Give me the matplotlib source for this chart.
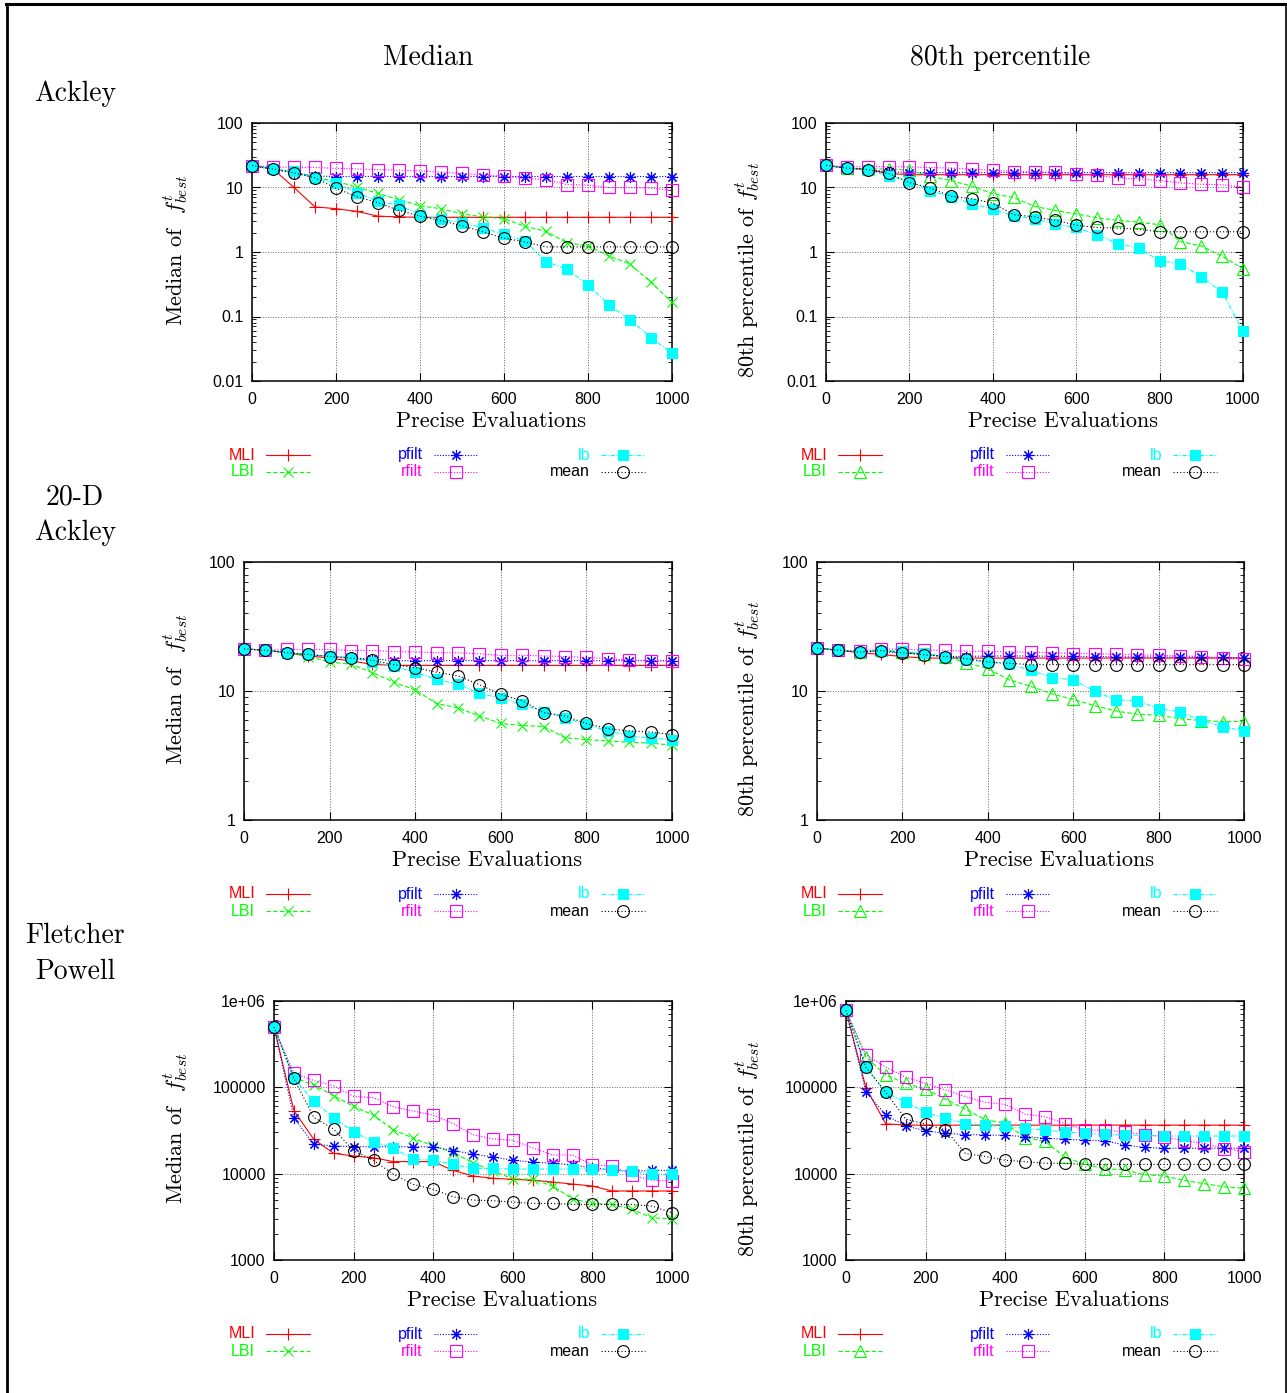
import matplotlib
matplotlib.use("Agg")
import matplotlib.pyplot as plt
from matplotlib.lines import Line2D
from matplotlib.ticker import LogLocator, NullFormatter

# evaluation counts (x axis)
evals = [0, 50, 100, 150, 200, 250, 300, 350, 400, 450, 500,
         550, 600, 650, 700, 750, 800, 850, 900, 950, 1000]

# Ackley, median
ack_med_mli = [21.9, 19.4, 10.0, 5.0, 4.7, 4.25, 3.6, 3.5, 3.45, 3.45, 3.45,
               3.45, 3.45, 3.45, 3.45, 3.45, 3.45, 3.45, 3.45, 3.45, 3.45]
ack_med_lbi = [21.9, 19.5, 17.5, 14.4, 12.5, 10.1, 8.1, 6.5, 5.2, 4.7, 3.9,
               3.5, 3.3, 2.5, 2.09, 1.39, 1.24, 0.87, 0.65, 0.34, 0.165]
ack_med_pfilt = [21.9, 19.0, 16.9, 15.0, 14.8, 14.8, 14.8, 14.8, 14.8, 14.8, 14.8,
                 14.8, 14.8, 14.8, 14.8, 14.8, 14.8, 14.8, 14.8, 14.8, 14.8]
ack_med_rfilt = [21.9, 20.9, 20.5, 20.5, 19.8, 19.4, 19.0, 18.5, 18.1, 17.3, 16.5,
                 15.7, 15.0, 13.8, 13.3, 11.1, 10.9, 10.0, 10.0, 9.8, 9.0]
ack_med_lb = [21.9, 19.4, 17.8, 13.8, 11.8, 8.3, 6.1, 5.3, 3.8, 3.2, 2.84,
              2.38, 1.88, 1.48, 0.71, 0.54, 0.31, 0.15, 0.089, 0.047, 0.027]
ack_med_mean = [21.9, 19.4, 16.8, 14.1, 9.7, 7.2, 5.8, 4.4, 3.6, 3.05, 2.55,
                2.06, 1.64, 1.43, 1.2, 1.2, 1.2, 1.2, 1.2, 1.2, 1.2]

# Ackley, 80th percentile
ack_p80_mli = [22.0, 20.0, 19.0, 16.5, 15.8, 15.8, 15.8, 15.8, 15.8, 15.8, 15.8,
               15.8, 15.8, 15.8, 15.8, 15.8, 15.8, 15.8, 15.8, 15.8, 15.8]
ack_p80_lbi = [22.0, 20.0, 19.5, 19.4, 18.5, 15.0, 12.8, 10.5, 8.0, 7.0, 5.1,
               4.4, 3.9, 3.4, 3.1, 2.9, 2.65, 1.45, 1.24, 0.86, 0.55]
ack_p80_pfilt = [22.0, 20.0, 19.0, 17.5, 17.0, 17.0, 17.0, 17.0, 17.0, 17.0, 17.0,
                 17.0, 17.0, 17.0, 17.0, 17.0, 17.0, 17.0, 17.0, 17.0, 17.0]
ack_p80_rfilt = [22.0, 21.0, 21.0, 21.0, 20.8, 20.4, 20.0, 19.2, 18.5, 17.7, 17.5,
                 17.3, 16.3, 15.4, 14.1, 13.6, 12.8, 11.8, 11.2, 11.0, 10.1]
ack_p80_lb = [22.0, 20.0, 18.5, 15.3, 12.5, 8.9, 7.2, 5.6, 4.6, 3.6, 3.3,
              2.7, 2.4, 1.85, 1.35, 1.15, 0.73, 0.66, 0.41, 0.24, 0.059]
ack_p80_mean = [22.0, 20.0, 19.0, 16.5, 11.9, 9.8, 7.3, 6.7, 5.7, 3.8, 3.5,
                3.1, 2.6, 2.4, 2.35, 2.25, 2.06, 2.06, 2.06, 2.06, 2.06]

# 20-D Ackley, median
a20_med_mli = [21.2, 20.7, 19.8, 18.7, 18.0, 17.1, 16.1, 15.8, 15.8, 15.8, 15.8,
               15.8, 15.8, 15.8, 15.8, 15.8, 15.8, 15.8, 15.8, 15.8, 15.8]
a20_med_lbi = [21.2, 20.7, 19.8, 18.5, 16.8, 16.1, 13.9, 11.7, 10.2, 8.0, 7.4,
               6.4, 5.6, 5.4, 5.3, 4.35, 4.2, 4.1, 4.0, 3.95, 3.8]
a20_med_pfilt = [21.2, 20.7, 20.0, 18.9, 18.7, 18.0, 17.8, 17.2, 17.2, 17.2, 17.2,
                 17.2, 17.2, 17.2, 17.2, 17.2, 17.2, 17.2, 17.2, 17.2, 17.2]
a20_med_rfilt = [21.2, 20.7, 21.0, 21.0, 21.0, 20.6, 20.6, 20.2, 20.1, 19.8, 19.8,
                 19.4, 18.9, 18.9, 18.7, 18.5, 18.2, 17.8, 17.4, 17.2, 17.0]
a20_med_lb = [21.2, 20.7, 19.8, 19.2, 18.7, 18.1, 16.8, 15.5, 14.0, 12.3, 11.3,
              9.6, 8.8, 7.9, 6.9, 6.2, 5.5, 4.9, 4.5, 4.3, 4.2]
a20_med_mean = [21.2, 20.7, 19.8, 19.2, 18.5, 18.0, 17.3, 16.0, 15.2, 14.0, 13.1,
                11.2, 9.4, 8.4, 6.8, 6.4, 5.6, 5.1, 4.9, 4.8, 4.6]

# 20-D Ackley, 80th percentile
a20_p80_mli = [21.5, 20.7, 19.8, 19.2, 18.5, 18.0, 18.0, 18.0, 18.0, 18.0, 18.0,
               18.0, 18.0, 18.0, 18.0, 18.0, 18.0, 18.0, 18.0, 18.0, 18.0]
a20_p80_lbi = [21.5, 20.7, 20.0, 20.7, 20.2, 19.3, 18.5, 16.6, 14.9, 12.2, 10.9,
               9.5, 8.6, 7.7, 7.0, 6.6, 6.5, 6.1, 5.9, 5.8, 5.8]
a20_p80_pfilt = [21.5, 20.7, 20.2, 20.2, 19.8, 19.2, 18.5, 18.5, 18.7, 18.7, 18.7,
                 18.6, 18.6, 18.5, 18.4, 18.4, 18.3, 18.3, 18.2, 18.2, 18.1]
a20_p80_rfilt = [21.5, 20.7, 20.5, 21.0, 21.2, 20.7, 20.7, 20.3, 20.3, 20.1, 20.0,
                 19.8, 19.5, 19.5, 19.2, 19.1, 18.9, 18.7, 18.5, 18.0, 17.7]
a20_p80_lb = [21.5, 20.7, 20.2, 20.5, 20.3, 19.8, 18.5, 17.4, 16.8, 16.1, 14.5,
              12.7, 12.2, 10.0, 8.5, 8.4, 7.3, 6.9, 5.9, 5.3, 4.9]
a20_p80_mean = [21.5, 20.7, 20.0, 20.6, 19.8, 19.1, 18.5, 17.8, 16.8, 16.4, 16.0,
                16.0, 16.0, 16.0, 16.0, 16.0, 16.0, 16.0, 16.0, 16.0, 16.0]

# Fletcher Powell, median
fp_med_mli = [500000, 53600, 25000, 17200, 16000, 15300, 13800, 13800, 13800, 10900, 9400,
              8830, 8600, 8400, 8000, 7580, 7190, 6300, 6300, 6300, 6300]
fp_med_lbi = [500000, 131000, 106000, 80000, 60100, 47700, 32200, 25700, 21000, 17500, 13400,
              10700, 8750, 8600, 7190, 5120, 4520, 4400, 3850, 3080, 3000]
fp_med_pfilt = [500000, 44400, 21900, 21000, 20500, 20500, 20500, 20500, 20500, 18500, 16900,
                15600, 14300, 13600, 13200, 12600, 11700, 11000, 10700, 10900, 10900]
fp_med_rfilt = [500000, 146000, 120000, 104000, 78600, 75900, 59600, 53100, 47700, 38100, 28200,
                25300, 24400, 19900, 16500, 16400, 12600, 12300, 9560, 8400, 8200]
fp_med_lb = [500000, 127000, 69300, 44400, 30500, 23400, 19900, 14700, 14300, 12800, 11500,
             11500, 11300, 11300, 11300, 11300, 11300, 11100, 10700, 9830, 9830]
fp_med_mean = [500000, 127000, 44800, 32800, 18400, 14300, 9830, 7520, 6580, 5400, 4940,
               4860, 4690, 4520, 4520, 4400, 4400, 4400, 4400, 4210, 3520]

# Fletcher Powell, 80th percentile
fp_p80_mli = [780000, 99000, 37800, 36500, 36500, 36500, 36500, 36500, 36500, 36500, 36500,
              36500, 36500, 36500, 36500, 36500, 36500, 36500, 36500, 36500, 36500]
fp_p80_lbi = [780000, 223000, 139000, 111000, 95700, 73100, 56000, 42100, 38500, 26000, 23800,
              15600, 12800, 11400, 11100, 9730, 9390, 8360, 7650, 7060, 6750]
fp_p80_pfilt = [780000, 89000, 47700, 35800, 31300, 29400, 28400, 28100, 27800, 26900, 25700,
                25100, 24400, 24000, 21500, 20100, 19700, 19700, 19700, 19700, 19700]
fp_p80_rfilt = [780000, 238000, 171000, 131000, 111000, 93100, 77900, 67000, 63400, 49000, 45600,
                38100, 31900, 31900, 30500, 28400, 26700, 24000, 22500, 19500, 18000]
fp_p80_lb = [780000, 171000, 87500, 67000, 51200, 44000, 38100, 36500, 35200, 33400, 31900,
             30500, 29400, 28600, 28100, 27800, 27300, 27300, 27300, 27300, 27300]
fp_p80_mean = [780000, 171000, 87500, 42800, 37500, 32200, 17100, 15800, 14300, 13800, 13200,
               13200, 12800, 12800, 12800, 12800, 12800, 12800, 12800, 12800, 12800]

series_names = ["MLI", "LBI", "pfilt", "rfilt", "lb", "mean"]
col_titles = ["Median", "80th percentile"]

W, H = 1287, 1393
plt.rcParams["font.family"] = ["Liberation Sans", "DejaVu Sans"]
plt.rcParams["mathtext.fontset"] = "cm"
SERIF = "cmr10"


def fx(x):
    return x / W


def fy(y):
    return 1 - y / H


STYLE = {
    "MLI": dict(color="#ff0000", ls="-", marker="+", ms=8.5, mfc="none"),
    "LBI": dict(color="#00ff00", ls=(0, (4, 2)), marker="x", ms=6.5, mfc="none"),
    "pfilt": dict(color="#0000ff", ls=(0, (1, 1.5)), marker=(8, 2, 0), ms=8, mfc="none"),
    "rfilt": dict(color="#ff00ff", ls=(0, (1, 1.5)), marker="s", ms=8, mfc="none"),
    "lb": dict(color="#00ffff", ls=(0, (4, 1.5, 1, 1.5)), marker="s", ms=7.5, mfc="#00ffff"),
    "mean": dict(color="#000000", ls=(0, (1, 2)), marker="o", ms=8.5, mfc="none"),
}

# (left, top, right, bottom) in pixels, y range, tick values, tick labels
panels = [
    dict(box=(252, 123, 672, 381), ylim=(0.01, 100), yt=[0.01, 0.1, 1, 10, 100],
         ytl=["0.01", "0.1", "1", "10", "100"], col=0,
         data=[ack_med_mli, ack_med_lbi, ack_med_pfilt, ack_med_rfilt, ack_med_lb, ack_med_mean]),
    dict(box=(826, 123, 1243, 381), ylim=(0.01, 100), yt=[0.01, 0.1, 1, 10, 100],
         ytl=["0.01", "0.1", "1", "10", "100"], col=1,
         data=[ack_p80_mli, ack_p80_lbi, ack_p80_pfilt, ack_p80_rfilt, ack_p80_lb, ack_p80_mean]),
    dict(box=(244, 562, 672, 820), ylim=(1, 100), yt=[1, 10, 100],
         ytl=["1", "10", "100"], col=0,
         data=[a20_med_mli, a20_med_lbi, a20_med_pfilt, a20_med_rfilt, a20_med_lb, a20_med_mean]),
    dict(box=(817, 562, 1244, 820), ylim=(1, 100), yt=[1, 10, 100],
         ytl=["1", "10", "100"], col=1,
         data=[a20_p80_mli, a20_p80_lbi, a20_p80_pfilt, a20_p80_rfilt, a20_p80_lb, a20_p80_mean]),
    dict(box=(274, 1001, 672, 1260), ylim=(1000, 1e6), yt=[1000, 10000, 100000, 1e6],
         ytl=["1000", "10000", "100000", "1e+06"], col=0,
         data=[fp_med_mli, fp_med_lbi, fp_med_pfilt, fp_med_rfilt, fp_med_lb, fp_med_mean]),
    dict(box=(846, 1001, 1244, 1260), ylim=(1000, 1e6), yt=[1000, 10000, 100000, 1e6],
         ytl=["1000", "10000", "100000", "1e+06"], col=1,
         data=[fp_p80_mli, fp_p80_lbi, fp_p80_pfilt, fp_p80_rfilt, fp_p80_lb, fp_p80_mean]),
]


def style_for(name, col):
    st = dict(STYLE[name])
    if name == "LBI" and col == 1:
        st["marker"] = "^"
        st["ms"] = 8
    return st


def draw_legend(fig, xoff, y0, col):
    rows = [y0, y0 + 17]
    label_right = [255, 423, 590]
    for i, name in enumerate(series_names):
        xr = label_right[i // 2] + xoff
        y = rows[i % 2]
        st = style_for(name, col)
        fig.text(fx(xr), fy(y), name, ha="right", va="center",
                 color=st["color"], fontsize=11.5)
        fig.add_artist(Line2D([fx(xr + 11), fx(xr + 55)], [fy(y), fy(y)],
                              transform=fig.transFigure, color=st["color"],
                              ls=st["ls"], lw=0.8))
        fig.add_artist(Line2D([fx(xr + 33)], [fy(y)], transform=fig.transFigure,
                              ls="none", marker=st["marker"], ms=st["ms"],
                              color=st["color"], mfc=st["mfc"], mec=st["color"], mew=0.8))


fig = plt.figure(figsize=(W / 100, H / 100), dpi=100)

for p in panels:
    l, t, r, b = p["box"]
    ax = fig.add_axes([fx(l), fy(b), (r - l) / W, (b - t) / H])
    for k, (name, vals) in enumerate(zip(series_names, p["data"])):
        st = style_for(name, p["col"])
        ax.plot(evals, vals, color=st["color"], ls=st["ls"], lw=0.8,
                marker=st["marker"], ms=st["ms"], mfc=st["mfc"],
                mec=st["color"], mew=0.8, clip_on=False, zorder=3 + k)
    ax.set_yscale("log")
    ax.set_xlim(0, 1000)
    ax.set_ylim(*p["ylim"])
    ax.set_xticks([0, 200, 400, 600, 800, 1000])
    ax.set_yticks(p["yt"], p["ytl"])
    ax.yaxis.set_minor_locator(LogLocator(base=10, subs=range(2, 10)))
    ax.yaxis.set_minor_formatter(NullFormatter())
    ax.tick_params(which="both", direction="in", top=True, right=True)
    ax.tick_params(which="major", length=6, width=0.8, labelsize=11.5)
    ax.tick_params(axis="x", which="major", pad=8)
    ax.tick_params(axis="y", which="major", pad=6)
    ax.tick_params(which="minor", length=3, width=0.6)
    ax.grid(True, which="major", ls=":", color="#666666", lw=0.7)
    for sp in ax.spines.values():
        sp.set_linewidth(1.1)

    xc = (l + r) / 2 + 29
    fig.text(fx(xc), fy(b + 40), "Precise Evaluations", ha="center", va="center",
             family=SERIF, fontsize=16)
    yc = (t + b) / 2
    if p["col"] == 0:
        fig.text(fx(176), fy(yc - 2), r"Median of  $f^t_{best}$", rotation=90,
                 ha="center", va="center", family=SERIF, fontsize=16)
    else:
        fig.text(fx(748), fy(yc + 18), r"80th percentile of $f^t_{best}$", rotation=90,
                 ha="center", va="center", family=SERIF, fontsize=16)
    draw_legend(fig, 572 * p["col"], b + 74, p["col"])

# column titles and row labels
fig.text(fx(428), fy(58), col_titles[0], ha="center", va="center", family=SERIF, fontsize=20)
fig.text(fx(1000), fy(58), col_titles[1], ha="center", va="center", family=SERIF, fontsize=20)
fig.text(fx(75), fy(94), "Ackley", ha="center", va="center", family=SERIF, fontsize=20)
fig.text(fx(75), fy(497), "20-D", ha="center", va="center", family=SERIF, fontsize=20)
fig.text(fx(75), fy(533), "Ackley", ha="center", va="center", family=SERIF, fontsize=20)
fig.text(fx(75), fy(936), "Fletcher", ha="center", va="center", family=SERIF, fontsize=20)
fig.text(fx(75), fy(972), "Powell", ha="center", va="center", family=SERIF, fontsize=20)

# outer frame (top, left, right)
fig.add_artist(Line2D([fx(6), fx(1286)], [fy(4), fy(4)], transform=fig.transFigure,
                      color="black", lw=2.2))
fig.add_artist(Line2D([fx(7), fx(7)], [0, fy(4)], transform=fig.transFigure,
                      color="black", lw=2.0))
fig.add_artist(Line2D([fx(1285.5), fx(1285.5)], [0, fy(4)], transform=fig.transFigure,
                      color="black", lw=1.2))

fig.savefig("out.png", dpi=100)
